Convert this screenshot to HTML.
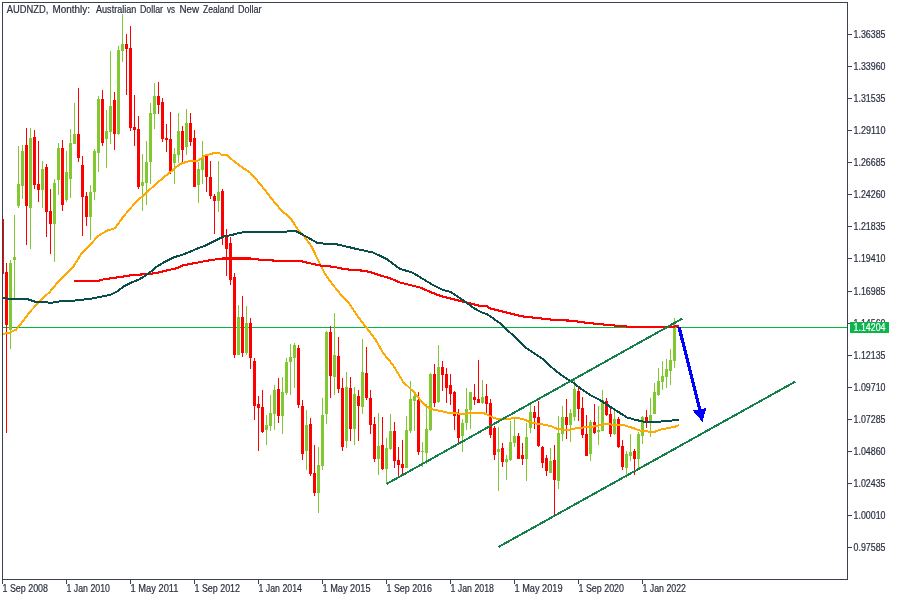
<!DOCTYPE html>
<html><head><meta charset="utf-8"><title>AUDNZD Monthly</title>
<style>html,body{margin:0;padding:0;background:#fff}svg{display:block}text{font-family:"Liberation Sans",sans-serif;font-size:10px;fill:#2a3040;stroke:#2a3040;stroke-width:0.2px}</style></head><body>
<svg width="900" height="600" viewBox="0 0 900 600">
<rect x="0" y="0" width="900" height="600" fill="#ffffff"/>
<g shape-rendering="crispEdges">
<rect x="3" y="327" width="845" height="1" fill="#00b93c"/>
</g>
<g shape-rendering="crispEdges">
<rect x="3" y="219" width="1" height="55" fill="#ff0000"/>
<rect x="6" y="263" width="1" height="170" fill="#ff0000"/>
<rect x="5" y="272" width="3" height="53" fill="#ff0000"/>
<rect x="10" y="260" width="1" height="89" fill="#82c832"/>
<rect x="9" y="263" width="3" height="67" fill="#82c832"/>
<rect x="14" y="215" width="1" height="83" fill="#82c832"/>
<rect x="13" y="257" width="3" height="3" fill="#82c832"/>
<rect x="18" y="146" width="1" height="62" fill="#82c832"/>
<rect x="17" y="184" width="3" height="22" fill="#82c832"/>
<rect x="22" y="145" width="1" height="54" fill="#82c832"/>
<rect x="21" y="151" width="3" height="35" fill="#82c832"/>
<rect x="26" y="128" width="1" height="117" fill="#ff0000"/>
<rect x="25" y="145" width="3" height="61" fill="#ff0000"/>
<rect x="30" y="128" width="1" height="121" fill="#82c832"/>
<rect x="29" y="138" width="3" height="70" fill="#82c832"/>
<rect x="34" y="130" width="1" height="59" fill="#ff0000"/>
<rect x="33" y="137" width="3" height="48" fill="#ff0000"/>
<rect x="38" y="141" width="1" height="61" fill="#ff0000"/>
<rect x="37" y="184" width="3" height="6" fill="#ff0000"/>
<rect x="42" y="161" width="1" height="47" fill="#82c832"/>
<rect x="41" y="169" width="3" height="21" fill="#82c832"/>
<rect x="46" y="164" width="1" height="73" fill="#ff0000"/>
<rect x="45" y="167" width="3" height="45" fill="#ff0000"/>
<rect x="50" y="189" width="1" height="65" fill="#ff0000"/>
<rect x="49" y="211" width="3" height="13" fill="#ff0000"/>
<rect x="54" y="179" width="1" height="83" fill="#82c832"/>
<rect x="53" y="183" width="3" height="41" fill="#82c832"/>
<rect x="58" y="143" width="1" height="52" fill="#82c832"/>
<rect x="57" y="148" width="3" height="32" fill="#82c832"/>
<rect x="62" y="140" width="1" height="71" fill="#ff0000"/>
<rect x="61" y="148" width="3" height="57" fill="#ff0000"/>
<rect x="66" y="151" width="1" height="51" fill="#82c832"/>
<rect x="65" y="172" width="3" height="28" fill="#82c832"/>
<rect x="70" y="129" width="1" height="69" fill="#82c832"/>
<rect x="69" y="143" width="3" height="36" fill="#82c832"/>
<rect x="74" y="103" width="1" height="41" fill="#82c832"/>
<rect x="73" y="134" width="3" height="10" fill="#82c832"/>
<rect x="78" y="88" width="1" height="74" fill="#ff0000"/>
<rect x="77" y="134" width="3" height="24" fill="#ff0000"/>
<rect x="82" y="156" width="1" height="80" fill="#ff0000"/>
<rect x="81" y="165" width="3" height="32" fill="#ff0000"/>
<rect x="86" y="192" width="1" height="34" fill="#ff0000"/>
<rect x="85" y="196" width="3" height="21" fill="#ff0000"/>
<rect x="90" y="185" width="1" height="55" fill="#82c832"/>
<rect x="89" y="192" width="3" height="25" fill="#82c832"/>
<rect x="94" y="149" width="1" height="51" fill="#82c832"/>
<rect x="93" y="151" width="3" height="41" fill="#82c832"/>
<rect x="98" y="96" width="1" height="76" fill="#82c832"/>
<rect x="97" y="99" width="3" height="54" fill="#82c832"/>
<rect x="102" y="90" width="1" height="56" fill="#ff0000"/>
<rect x="101" y="99" width="3" height="44" fill="#ff0000"/>
<rect x="106" y="110" width="1" height="58" fill="#82c832"/>
<rect x="105" y="131" width="3" height="8" fill="#82c832"/>
<rect x="110" y="51" width="1" height="93" fill="#82c832"/>
<rect x="109" y="106" width="3" height="26" fill="#82c832"/>
<rect x="114" y="92" width="1" height="58" fill="#ff0000"/>
<rect x="113" y="100" width="3" height="34" fill="#ff0000"/>
<rect x="118" y="46" width="1" height="89" fill="#82c832"/>
<rect x="117" y="50" width="3" height="84" fill="#82c832"/>
<rect x="122" y="14" width="1" height="48" fill="#82c832"/>
<rect x="121" y="44" width="3" height="7" fill="#82c832"/>
<rect x="126" y="34" width="1" height="61" fill="#ff0000"/>
<rect x="125" y="44" width="3" height="5" fill="#ff0000"/>
<rect x="130" y="26" width="1" height="105" fill="#ff0000"/>
<rect x="129" y="48" width="3" height="80" fill="#ff0000"/>
<rect x="134" y="95" width="1" height="51" fill="#ff0000"/>
<rect x="133" y="127" width="3" height="3" fill="#ff0000"/>
<rect x="138" y="116" width="1" height="73" fill="#ff0000"/>
<rect x="137" y="129" width="3" height="58" fill="#ff0000"/>
<rect x="142" y="154" width="1" height="57" fill="#82c832"/>
<rect x="141" y="182" width="3" height="4" fill="#82c832"/>
<rect x="146" y="141" width="1" height="64" fill="#82c832"/>
<rect x="145" y="162" width="3" height="21" fill="#82c832"/>
<rect x="150" y="103" width="1" height="81" fill="#82c832"/>
<rect x="149" y="113" width="3" height="49" fill="#82c832"/>
<rect x="154" y="83" width="1" height="46" fill="#82c832"/>
<rect x="153" y="96" width="3" height="18" fill="#82c832"/>
<rect x="158" y="82" width="1" height="32" fill="#ff0000"/>
<rect x="157" y="96" width="3" height="9" fill="#ff0000"/>
<rect x="162" y="98" width="1" height="44" fill="#ff0000"/>
<rect x="161" y="102" width="3" height="37" fill="#ff0000"/>
<rect x="166" y="124" width="1" height="28" fill="#ff0000"/>
<rect x="165" y="138" width="3" height="2" fill="#ff0000"/>
<rect x="170" y="112" width="1" height="62" fill="#ff0000"/>
<rect x="169" y="139" width="3" height="32" fill="#ff0000"/>
<rect x="174" y="148" width="1" height="36" fill="#82c832"/>
<rect x="173" y="154" width="3" height="9" fill="#82c832"/>
<rect x="178" y="113" width="1" height="50" fill="#82c832"/>
<rect x="177" y="131" width="3" height="24" fill="#82c832"/>
<rect x="182" y="126" width="1" height="36" fill="#ff0000"/>
<rect x="181" y="131" width="3" height="19" fill="#ff0000"/>
<rect x="186" y="109" width="1" height="46" fill="#82c832"/>
<rect x="185" y="123" width="3" height="24" fill="#82c832"/>
<rect x="190" y="113" width="1" height="33" fill="#ff0000"/>
<rect x="189" y="123" width="3" height="19" fill="#ff0000"/>
<rect x="194" y="130" width="1" height="57" fill="#ff0000"/>
<rect x="193" y="138" width="3" height="49" fill="#ff0000"/>
<rect x="198" y="162" width="1" height="41" fill="#82c832"/>
<rect x="197" y="169" width="3" height="16" fill="#82c832"/>
<rect x="202" y="141" width="1" height="43" fill="#82c832"/>
<rect x="201" y="157" width="3" height="13" fill="#82c832"/>
<rect x="206" y="155" width="1" height="37" fill="#ff0000"/>
<rect x="205" y="156" width="3" height="21" fill="#ff0000"/>
<rect x="210" y="161" width="1" height="38" fill="#ff0000"/>
<rect x="209" y="177" width="3" height="19" fill="#ff0000"/>
<rect x="214" y="194" width="1" height="40" fill="#ff0000"/>
<rect x="213" y="196" width="3" height="5" fill="#ff0000"/>
<rect x="218" y="161" width="1" height="51" fill="#82c832"/>
<rect x="217" y="192" width="3" height="9" fill="#82c832"/>
<rect x="222" y="189" width="1" height="56" fill="#ff0000"/>
<rect x="221" y="191" width="3" height="47" fill="#ff0000"/>
<rect x="226" y="229" width="1" height="47" fill="#ff0000"/>
<rect x="225" y="236" width="3" height="13" fill="#ff0000"/>
<rect x="230" y="237" width="1" height="48" fill="#ff0000"/>
<rect x="229" y="243" width="3" height="37" fill="#ff0000"/>
<rect x="234" y="273" width="1" height="85" fill="#ff0000"/>
<rect x="233" y="277" width="3" height="78" fill="#ff0000"/>
<rect x="238" y="305" width="1" height="50" fill="#82c832"/>
<rect x="237" y="317" width="3" height="38" fill="#82c832"/>
<rect x="242" y="296" width="1" height="61" fill="#ff0000"/>
<rect x="241" y="317" width="3" height="36" fill="#ff0000"/>
<rect x="246" y="306" width="1" height="49" fill="#82c832"/>
<rect x="245" y="323" width="3" height="30" fill="#82c832"/>
<rect x="250" y="318" width="1" height="51" fill="#ff0000"/>
<rect x="249" y="323" width="3" height="35" fill="#ff0000"/>
<rect x="254" y="358" width="1" height="62" fill="#ff0000"/>
<rect x="253" y="361" width="3" height="45" fill="#ff0000"/>
<rect x="258" y="396" width="1" height="55" fill="#ff0000"/>
<rect x="257" y="404" width="3" height="4" fill="#ff0000"/>
<rect x="262" y="390" width="1" height="43" fill="#ff0000"/>
<rect x="261" y="407" width="3" height="25" fill="#ff0000"/>
<rect x="266" y="415" width="1" height="30" fill="#82c832"/>
<rect x="265" y="425" width="3" height="5" fill="#82c832"/>
<rect x="270" y="395" width="1" height="36" fill="#82c832"/>
<rect x="269" y="413" width="3" height="13" fill="#82c832"/>
<rect x="274" y="385" width="1" height="45" fill="#82c832"/>
<rect x="273" y="390" width="3" height="24" fill="#82c832"/>
<rect x="278" y="378" width="1" height="45" fill="#ff0000"/>
<rect x="277" y="389" width="3" height="27" fill="#ff0000"/>
<rect x="282" y="377" width="1" height="57" fill="#82c832"/>
<rect x="281" y="392" width="3" height="24" fill="#82c832"/>
<rect x="286" y="358" width="1" height="37" fill="#82c832"/>
<rect x="285" y="362" width="3" height="31" fill="#82c832"/>
<rect x="290" y="344" width="1" height="51" fill="#82c832"/>
<rect x="289" y="357" width="3" height="5" fill="#82c832"/>
<rect x="294" y="343" width="1" height="45" fill="#82c832"/>
<rect x="293" y="345" width="3" height="13" fill="#82c832"/>
<rect x="298" y="345" width="1" height="63" fill="#ff0000"/>
<rect x="297" y="348" width="3" height="57" fill="#ff0000"/>
<rect x="302" y="400" width="1" height="60" fill="#ff0000"/>
<rect x="301" y="406" width="3" height="48" fill="#ff0000"/>
<rect x="306" y="410" width="1" height="60" fill="#82c832"/>
<rect x="305" y="425" width="3" height="26" fill="#82c832"/>
<rect x="310" y="418" width="1" height="58" fill="#ff0000"/>
<rect x="309" y="424" width="3" height="50" fill="#ff0000"/>
<rect x="314" y="445" width="1" height="51" fill="#ff0000"/>
<rect x="313" y="473" width="3" height="20" fill="#ff0000"/>
<rect x="318" y="447" width="1" height="66" fill="#82c832"/>
<rect x="317" y="465" width="3" height="28" fill="#82c832"/>
<rect x="322" y="398" width="1" height="72" fill="#82c832"/>
<rect x="321" y="415" width="3" height="51" fill="#82c832"/>
<rect x="326" y="331" width="1" height="93" fill="#82c832"/>
<rect x="325" y="332" width="3" height="82" fill="#82c832"/>
<rect x="330" y="326" width="1" height="72" fill="#ff0000"/>
<rect x="329" y="332" width="3" height="44" fill="#ff0000"/>
<rect x="334" y="313" width="1" height="82" fill="#82c832"/>
<rect x="333" y="355" width="3" height="22" fill="#82c832"/>
<rect x="338" y="337" width="1" height="56" fill="#ff0000"/>
<rect x="337" y="356" width="3" height="33" fill="#ff0000"/>
<rect x="342" y="378" width="1" height="73" fill="#ff0000"/>
<rect x="341" y="388" width="3" height="59" fill="#ff0000"/>
<rect x="346" y="372" width="1" height="76" fill="#82c832"/>
<rect x="345" y="387" width="3" height="54" fill="#82c832"/>
<rect x="350" y="377" width="1" height="64" fill="#ff0000"/>
<rect x="349" y="388" width="3" height="41" fill="#ff0000"/>
<rect x="354" y="387" width="1" height="58" fill="#82c832"/>
<rect x="353" y="394" width="3" height="35" fill="#82c832"/>
<rect x="358" y="390" width="1" height="51" fill="#ff0000"/>
<rect x="357" y="396" width="3" height="10" fill="#ff0000"/>
<rect x="362" y="339" width="1" height="75" fill="#82c832"/>
<rect x="361" y="372" width="3" height="35" fill="#82c832"/>
<rect x="366" y="347" width="1" height="53" fill="#ff0000"/>
<rect x="365" y="373" width="3" height="25" fill="#ff0000"/>
<rect x="370" y="390" width="1" height="44" fill="#ff0000"/>
<rect x="369" y="398" width="3" height="27" fill="#ff0000"/>
<rect x="374" y="417" width="1" height="45" fill="#ff0000"/>
<rect x="373" y="424" width="3" height="35" fill="#ff0000"/>
<rect x="378" y="413" width="1" height="62" fill="#82c832"/>
<rect x="377" y="446" width="3" height="13" fill="#82c832"/>
<rect x="382" y="417" width="1" height="53" fill="#ff0000"/>
<rect x="381" y="445" width="3" height="24" fill="#ff0000"/>
<rect x="386" y="438" width="1" height="46" fill="#82c832"/>
<rect x="385" y="448" width="3" height="21" fill="#82c832"/>
<rect x="390" y="414" width="1" height="36" fill="#82c832"/>
<rect x="389" y="431" width="3" height="18" fill="#82c832"/>
<rect x="394" y="422" width="1" height="46" fill="#ff0000"/>
<rect x="393" y="431" width="3" height="30" fill="#ff0000"/>
<rect x="398" y="447" width="1" height="29" fill="#ff0000"/>
<rect x="397" y="460" width="3" height="5" fill="#ff0000"/>
<rect x="402" y="440" width="1" height="34" fill="#ff0000"/>
<rect x="401" y="464" width="3" height="4" fill="#ff0000"/>
<rect x="406" y="416" width="1" height="52" fill="#82c832"/>
<rect x="405" y="430" width="3" height="38" fill="#82c832"/>
<rect x="410" y="381" width="1" height="52" fill="#82c832"/>
<rect x="409" y="399" width="3" height="32" fill="#82c832"/>
<rect x="414" y="393" width="1" height="38" fill="#82c832"/>
<rect x="413" y="396" width="3" height="5" fill="#82c832"/>
<rect x="418" y="392" width="1" height="63" fill="#ff0000"/>
<rect x="417" y="400" width="3" height="52" fill="#ff0000"/>
<rect x="422" y="442" width="1" height="25" fill="#82c832"/>
<rect x="421" y="451" width="3" height="1" fill="#82c832"/>
<rect x="426" y="404" width="1" height="60" fill="#82c832"/>
<rect x="425" y="429" width="3" height="24" fill="#82c832"/>
<rect x="430" y="373" width="1" height="58" fill="#82c832"/>
<rect x="429" y="374" width="3" height="56" fill="#82c832"/>
<rect x="434" y="364" width="1" height="43" fill="#ff0000"/>
<rect x="433" y="374" width="3" height="29" fill="#ff0000"/>
<rect x="438" y="345" width="1" height="58" fill="#82c832"/>
<rect x="437" y="367" width="3" height="35" fill="#82c832"/>
<rect x="442" y="361" width="1" height="30" fill="#ff0000"/>
<rect x="441" y="367" width="3" height="8" fill="#ff0000"/>
<rect x="446" y="368" width="1" height="35" fill="#ff0000"/>
<rect x="445" y="374" width="3" height="14" fill="#ff0000"/>
<rect x="450" y="374" width="1" height="31" fill="#ff0000"/>
<rect x="449" y="385" width="3" height="9" fill="#ff0000"/>
<rect x="454" y="391" width="1" height="39" fill="#ff0000"/>
<rect x="453" y="392" width="3" height="24" fill="#ff0000"/>
<rect x="458" y="409" width="1" height="34" fill="#ff0000"/>
<rect x="457" y="413" width="3" height="25" fill="#ff0000"/>
<rect x="462" y="419" width="1" height="33" fill="#82c832"/>
<rect x="461" y="423" width="3" height="13" fill="#82c832"/>
<rect x="466" y="388" width="1" height="42" fill="#82c832"/>
<rect x="465" y="409" width="3" height="14" fill="#82c832"/>
<rect x="470" y="392" width="1" height="37" fill="#82c832"/>
<rect x="469" y="392" width="3" height="18" fill="#82c832"/>
<rect x="474" y="384" width="1" height="21" fill="#ff0000"/>
<rect x="473" y="397" width="3" height="3" fill="#ff0000"/>
<rect x="478" y="360" width="1" height="43" fill="#ff0000"/>
<rect x="477" y="399" width="3" height="4" fill="#ff0000"/>
<rect x="482" y="380" width="1" height="24" fill="#82c832"/>
<rect x="481" y="397" width="3" height="6" fill="#82c832"/>
<rect x="486" y="384" width="1" height="29" fill="#ff0000"/>
<rect x="485" y="396" width="3" height="8" fill="#ff0000"/>
<rect x="490" y="399" width="1" height="39" fill="#ff0000"/>
<rect x="489" y="403" width="3" height="32" fill="#ff0000"/>
<rect x="494" y="426" width="1" height="34" fill="#ff0000"/>
<rect x="493" y="428" width="3" height="27" fill="#ff0000"/>
<rect x="498" y="427" width="1" height="64" fill="#82c832"/>
<rect x="497" y="449" width="3" height="3" fill="#82c832"/>
<rect x="502" y="443" width="1" height="24" fill="#ff0000"/>
<rect x="501" y="448" width="3" height="14" fill="#ff0000"/>
<rect x="506" y="455" width="1" height="25" fill="#82c832"/>
<rect x="505" y="459" width="3" height="3" fill="#82c832"/>
<rect x="510" y="421" width="1" height="40" fill="#82c832"/>
<rect x="509" y="442" width="3" height="18" fill="#82c832"/>
<rect x="514" y="418" width="1" height="29" fill="#82c832"/>
<rect x="513" y="436" width="3" height="7" fill="#82c832"/>
<rect x="518" y="433" width="1" height="26" fill="#ff0000"/>
<rect x="517" y="436" width="3" height="23" fill="#ff0000"/>
<rect x="522" y="443" width="1" height="22" fill="#ff0000"/>
<rect x="521" y="455" width="3" height="4" fill="#ff0000"/>
<rect x="526" y="423" width="1" height="58" fill="#82c832"/>
<rect x="525" y="437" width="3" height="22" fill="#82c832"/>
<rect x="530" y="405" width="1" height="28" fill="#82c832"/>
<rect x="529" y="412" width="3" height="16" fill="#82c832"/>
<rect x="534" y="406" width="1" height="23" fill="#ff0000"/>
<rect x="533" y="412" width="3" height="6" fill="#ff0000"/>
<rect x="538" y="401" width="1" height="46" fill="#ff0000"/>
<rect x="537" y="417" width="3" height="29" fill="#ff0000"/>
<rect x="542" y="446" width="1" height="22" fill="#ff0000"/>
<rect x="541" y="447" width="3" height="16" fill="#ff0000"/>
<rect x="546" y="455" width="1" height="21" fill="#ff0000"/>
<rect x="545" y="458" width="3" height="13" fill="#ff0000"/>
<rect x="550" y="448" width="1" height="25" fill="#82c832"/>
<rect x="549" y="461" width="3" height="12" fill="#82c832"/>
<rect x="554" y="445" width="1" height="70" fill="#ff0000"/>
<rect x="553" y="460" width="3" height="20" fill="#ff0000"/>
<rect x="558" y="416" width="1" height="73" fill="#82c832"/>
<rect x="557" y="433" width="3" height="48" fill="#82c832"/>
<rect x="562" y="406" width="1" height="35" fill="#82c832"/>
<rect x="561" y="417" width="3" height="17" fill="#82c832"/>
<rect x="566" y="399" width="1" height="40" fill="#ff0000"/>
<rect x="565" y="417" width="3" height="8" fill="#ff0000"/>
<rect x="570" y="409" width="1" height="33" fill="#82c832"/>
<rect x="569" y="413" width="3" height="12" fill="#82c832"/>
<rect x="574" y="379" width="1" height="42" fill="#82c832"/>
<rect x="573" y="389" width="3" height="28" fill="#82c832"/>
<rect x="578" y="388" width="1" height="33" fill="#ff0000"/>
<rect x="577" y="391" width="3" height="18" fill="#ff0000"/>
<rect x="582" y="397" width="1" height="41" fill="#ff0000"/>
<rect x="581" y="408" width="3" height="27" fill="#ff0000"/>
<rect x="586" y="415" width="1" height="41" fill="#ff0000"/>
<rect x="585" y="434" width="3" height="22" fill="#ff0000"/>
<rect x="590" y="420" width="1" height="41" fill="#82c832"/>
<rect x="589" y="422" width="3" height="32" fill="#82c832"/>
<rect x="594" y="404" width="1" height="30" fill="#ff0000"/>
<rect x="593" y="422" width="3" height="11" fill="#ff0000"/>
<rect x="598" y="406" width="1" height="39" fill="#82c832"/>
<rect x="597" y="430" width="3" height="2" fill="#82c832"/>
<rect x="602" y="390" width="1" height="41" fill="#82c832"/>
<rect x="601" y="400" width="3" height="31" fill="#82c832"/>
<rect x="606" y="398" width="1" height="18" fill="#ff0000"/>
<rect x="605" y="401" width="3" height="14" fill="#ff0000"/>
<rect x="610" y="408" width="1" height="29" fill="#ff0000"/>
<rect x="609" y="414" width="3" height="20" fill="#ff0000"/>
<rect x="614" y="408" width="1" height="27" fill="#82c832"/>
<rect x="613" y="419" width="3" height="15" fill="#82c832"/>
<rect x="618" y="417" width="1" height="31" fill="#ff0000"/>
<rect x="617" y="419" width="3" height="28" fill="#ff0000"/>
<rect x="622" y="440" width="1" height="30" fill="#ff0000"/>
<rect x="621" y="446" width="3" height="21" fill="#ff0000"/>
<rect x="626" y="451" width="1" height="27" fill="#82c832"/>
<rect x="625" y="454" width="3" height="14" fill="#82c832"/>
<rect x="630" y="434" width="1" height="27" fill="#82c832"/>
<rect x="629" y="452" width="3" height="4" fill="#82c832"/>
<rect x="634" y="449" width="1" height="26" fill="#ff0000"/>
<rect x="633" y="451" width="3" height="8" fill="#ff0000"/>
<rect x="638" y="432" width="1" height="36" fill="#82c832"/>
<rect x="637" y="434" width="3" height="25" fill="#82c832"/>
<rect x="642" y="416" width="1" height="28" fill="#82c832"/>
<rect x="641" y="417" width="3" height="19" fill="#82c832"/>
<rect x="646" y="410" width="1" height="18" fill="#ff0000"/>
<rect x="645" y="417" width="3" height="4" fill="#ff0000"/>
<rect x="650" y="398" width="1" height="39" fill="#82c832"/>
<rect x="649" y="415" width="3" height="6" fill="#82c832"/>
<rect x="654" y="383" width="1" height="31" fill="#82c832"/>
<rect x="653" y="392" width="3" height="22" fill="#82c832"/>
<rect x="658" y="368" width="1" height="28" fill="#82c832"/>
<rect x="657" y="381" width="3" height="14" fill="#82c832"/>
<rect x="662" y="361" width="1" height="29" fill="#82c832"/>
<rect x="661" y="376" width="3" height="6" fill="#82c832"/>
<rect x="666" y="359" width="1" height="29" fill="#82c832"/>
<rect x="665" y="369" width="3" height="8" fill="#82c832"/>
<rect x="670" y="349" width="1" height="36" fill="#82c832"/>
<rect x="669" y="360" width="3" height="11" fill="#82c832"/>
<rect x="674" y="318" width="1" height="50" fill="#82c832"/>
<rect x="673" y="325" width="3" height="36" fill="#82c832"/>
</g>
<g shape-rendering="crispEdges">
<polyline points="3.0,334.0 10.0,332.5 16.0,329.7 20.0,325.0 30.0,311.7 40.0,301.0 50.0,291.7 58.3,281.7 73.3,266.7 81.7,253.3 90.0,245.0 98.3,235.8 106.7,230.8 115.0,228.3 123.3,216.7 133.3,205.0 140.0,198.3 146.0,193.0 156.0,184.0 164.0,177.0 170.0,172.3 180.0,164.0 188.3,161.3 198.3,160.5 205.0,155.5 211.0,154.0 215.0,152.6 219.0,152.6 221.0,154.5 226.0,154.5 230.0,158.0 235.0,162.0 243.3,168.3 250.0,172.5 256.7,180.0 265.0,190.0 273.3,200.8 281.7,210.8 290.0,217.5 298.3,230.0 305.0,237.5 311.7,246.7 318.0,260.0 325.0,274.0 333.0,285.0 341.7,295.8 348.0,301.7 356.7,315.0 365.0,325.8 375.8,340.0 383.3,353.3 393.0,365.0 403.0,381.7 415.0,393.3 423.0,403.3 430.0,409.0 440.0,410.8 447.0,412.5 460.0,413.7 475.0,413.3 483.0,412.8 488.0,415.0 492.0,417.0 497.0,419.0 505.0,419.0 517.0,418.0 523.0,419.0 532.0,423.0 540.0,424.0 550.0,425.8 557.0,428.7 563.0,429.7 570.0,429.7 577.0,428.0 590.0,427.0 597.0,426.0 605.0,423.8 615.0,425.0 625.0,425.5 633.0,428.0 640.0,430.5 650.0,431.7 655.0,431.7 660.0,429.7 668.0,428.0 675.0,426.7 679.0,425.0" fill="none" stroke="#ffa900" stroke-width="2" stroke-linejoin="round"/>
<polyline points="74.0,281.0 98.3,281.0 103.3,279.4 116.7,277.5 131.7,275.2 148.0,274.0 156.7,273.0 165.0,270.8 176.7,268.3 183.0,265.3 198.0,262.5 206.7,260.8 215.0,259.5 223.0,258.5 250.0,258.5 262.0,260.0 280.0,260.8 300.0,260.8 310.0,263.3 320.0,265.5 335.0,267.0 340.0,268.3 350.0,269.7 365.0,270.8 373.0,273.0 381.7,275.8 390.0,278.3 400.0,282.5 410.0,285.0 420.0,287.5 431.7,292.5 440.0,295.8 450.0,298.3 460.0,300.8 470.0,303.3 480.0,305.8 486.7,306.0 490.0,308.3 500.0,310.8 510.0,313.3 521.7,316.3 540.0,318.3 555.0,320.0 570.0,320.6 574.0,321.0 580.7,322.0 588.7,323.0 598.7,324.0 608.7,325.0 620.7,326.0 632.7,327.0 673.5,327.0 675.5,326.0 679.0,326.0" fill="none" stroke="#ff0000" stroke-width="2.1" stroke-linejoin="round"/>
<polyline points="3.0,297.5 8.0,298.7 26.0,298.7 35.0,301.7 48.0,302.5 53.0,302.5 60.0,301.3 74.0,300.6 90.0,298.9 110.0,295.0 116.7,291.7 123.3,286.7 131.7,282.5 140.0,279.0 148.0,274.0 156.7,266.7 165.0,261.7 173.3,257.5 181.7,255.0 190.0,251.7 198.0,248.3 206.7,245.0 215.0,240.8 223.0,236.7 231.7,235.0 240.0,232.8 248.0,231.7 265.0,232.0 283.0,232.5 290.0,230.8 295.0,230.8 300.0,233.3 308.0,237.5 318.0,243.3 335.0,244.0 340.0,245.0 356.7,249.0 373.0,252.5 386.7,259.0 400.0,269.0 406.7,270.8 413.3,273.0 423.0,279.0 433.0,285.0 443.0,290.0 450.0,291.7 456.7,295.8 465.0,301.7 473.0,307.5 481.7,312.5 486.7,314.0 493.0,318.3 500.0,323.3 506.7,330.0 513.0,335.0 520.0,341.7 526.7,348.3 535.0,354.0 543.0,359.0 550.0,365.8 556.7,371.7 565.0,377.5 573.0,382.5 580.0,388.0 590.0,395.0 600.0,400.0 610.0,406.7 620.0,413.0 627.0,417.5 635.0,419.7 645.0,422.0 655.0,422.5 665.0,420.8 672.0,420.5 679.0,419.7" fill="none" stroke="#0b4d4a" stroke-width="2" stroke-linejoin="round"/>
<line x1="386.5" y1="484" x2="682.5" y2="318.5" stroke="#15804a" stroke-width="2"/>
<line x1="498.5" y1="547" x2="795.5" y2="381.5" stroke="#15804a" stroke-width="2"/>
<line x1="679" y1="327" x2="700.5" y2="412" stroke="#0000ff" stroke-width="3.2"/>
<polygon points="692.8,410.5 706.2,408 702.5,422" fill="#0000ff"/>
</g>
<g shape-rendering="crispEdges" fill="#3c4150">
<rect x="2" y="2" width="846" height="1"/>
<rect x="2" y="2" width="1" height="578"/>
<rect x="847" y="2" width="1" height="578"/>
<rect x="2" y="579" width="846" height="1"/>
<rect x="848" y="34" width="4" height="1"/>
<rect x="848" y="66" width="4" height="1"/>
<rect x="848" y="98" width="4" height="1"/>
<rect x="848" y="130" width="4" height="1"/>
<rect x="848" y="162" width="4" height="1"/>
<rect x="848" y="194" width="4" height="1"/>
<rect x="848" y="226" width="4" height="1"/>
<rect x="848" y="258" width="4" height="1"/>
<rect x="848" y="291" width="4" height="1"/>
<rect x="848" y="323" width="4" height="1"/>
<rect x="848" y="355" width="4" height="1"/>
<rect x="848" y="387" width="4" height="1"/>
<rect x="848" y="419" width="4" height="1"/>
<rect x="848" y="451" width="4" height="1"/>
<rect x="848" y="483" width="4" height="1"/>
<rect x="848" y="515" width="4" height="1"/>
<rect x="848" y="547" width="4" height="1"/>
<rect x="2" y="580" width="1" height="4"/>
<rect x="66" y="580" width="1" height="4"/>
<rect x="130" y="580" width="1" height="4"/>
<rect x="194" y="580" width="1" height="4"/>
<rect x="258" y="580" width="1" height="4"/>
<rect x="322" y="580" width="1" height="4"/>
<rect x="386" y="580" width="1" height="4"/>
<rect x="450" y="580" width="1" height="4"/>
<rect x="514" y="580" width="1" height="4"/>
<rect x="578" y="580" width="1" height="4"/>
<rect x="642" y="580" width="1" height="4"/>
</g>
<defs><filter id="na" x="0" y="0" width="900" height="600" filterUnits="userSpaceOnUse"><feOffset dx="0" dy="0"/></filter></defs><g filter="url(#na)">
<text x="853.5" y="38" textLength="32" lengthAdjust="spacingAndGlyphs">1.36385</text>
<text x="853.5" y="70" textLength="32" lengthAdjust="spacingAndGlyphs">1.33960</text>
<text x="853.5" y="102" textLength="32" lengthAdjust="spacingAndGlyphs">1.31535</text>
<text x="853.5" y="134" textLength="32" lengthAdjust="spacingAndGlyphs">1.29110</text>
<text x="853.5" y="166" textLength="32" lengthAdjust="spacingAndGlyphs">1.26685</text>
<text x="853.5" y="198" textLength="32" lengthAdjust="spacingAndGlyphs">1.24260</text>
<text x="853.5" y="230" textLength="32" lengthAdjust="spacingAndGlyphs">1.21835</text>
<text x="853.5" y="262" textLength="32" lengthAdjust="spacingAndGlyphs">1.19410</text>
<text x="853.5" y="295" textLength="32" lengthAdjust="spacingAndGlyphs">1.16985</text>
<text x="853.5" y="327" textLength="32" lengthAdjust="spacingAndGlyphs">1.14560</text>
<text x="853.5" y="359" textLength="32" lengthAdjust="spacingAndGlyphs">1.12135</text>
<text x="853.5" y="391" textLength="32" lengthAdjust="spacingAndGlyphs">1.09710</text>
<text x="853.5" y="423" textLength="32" lengthAdjust="spacingAndGlyphs">1.07285</text>
<text x="853.5" y="455" textLength="32" lengthAdjust="spacingAndGlyphs">1.04860</text>
<text x="853.5" y="487" textLength="32" lengthAdjust="spacingAndGlyphs">1.02435</text>
<text x="853.5" y="519" textLength="32" lengthAdjust="spacingAndGlyphs">1.00010</text>
<text x="853.5" y="551" textLength="32" lengthAdjust="spacingAndGlyphs">0.97585</text>
<text x="2.5" y="592" textLength="45.5" lengthAdjust="spacingAndGlyphs">1 Sep 2008</text>
<text x="66.5" y="592" textLength="43.5" lengthAdjust="spacingAndGlyphs">1 Jan 2010</text>
<text x="130.5" y="592" textLength="48" lengthAdjust="spacingAndGlyphs">1 May 2011</text>
<text x="194.5" y="592" textLength="45.5" lengthAdjust="spacingAndGlyphs">1 Sep 2012</text>
<text x="258.5" y="592" textLength="43.5" lengthAdjust="spacingAndGlyphs">1 Jan 2014</text>
<text x="322.5" y="592" textLength="48" lengthAdjust="spacingAndGlyphs">1 May 2015</text>
<text x="386.5" y="592" textLength="45.5" lengthAdjust="spacingAndGlyphs">1 Sep 2016</text>
<text x="450.5" y="592" textLength="43.5" lengthAdjust="spacingAndGlyphs">1 Jan 2018</text>
<text x="514.5" y="592" textLength="48" lengthAdjust="spacingAndGlyphs">1 May 2019</text>
<text x="578.5" y="592" textLength="45.5" lengthAdjust="spacingAndGlyphs">1 Sep 2020</text>
<text x="642.5" y="592" textLength="43.5" lengthAdjust="spacingAndGlyphs">1 Jan 2022</text>
<rect x="850" y="322" width="39" height="11" fill="#0bb44c" shape-rendering="crispEdges"/>
<text x="853.5" y="331" textLength="32" lengthAdjust="spacingAndGlyphs" style="fill:#fff;stroke:#fff">1.14204</text>
<text x="6.7" y="12.8" textLength="41.6" lengthAdjust="spacingAndGlyphs">AUDNZD,</text>
<text x="52.5" y="12.8" textLength="37.5" lengthAdjust="spacingAndGlyphs">Monthly:</text>
<text x="96.0" y="12.8" textLength="40.4" lengthAdjust="spacingAndGlyphs">Australian</text>
<text x="140.0" y="12.8" textLength="23.0" lengthAdjust="spacingAndGlyphs">Dollar</text>
<text x="167.0" y="12.8" textLength="8.0" lengthAdjust="spacingAndGlyphs">vs</text>
<text x="179.4" y="12.8" textLength="19.6" lengthAdjust="spacingAndGlyphs">New</text>
<text x="203.0" y="12.8" textLength="31.0" lengthAdjust="spacingAndGlyphs">Zealand</text>
<text x="238.0" y="12.8" textLength="23.6" lengthAdjust="spacingAndGlyphs">Dollar</text>
</g>
</svg></body></html>
